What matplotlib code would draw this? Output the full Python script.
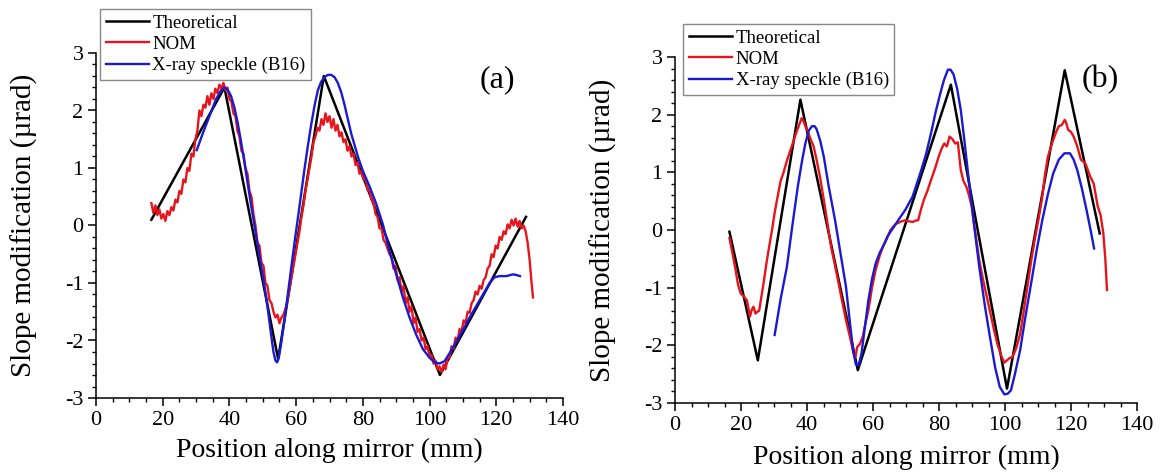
import matplotlib
matplotlib.use("Agg")
import matplotlib.pyplot as plt
from matplotlib.ticker import MultipleLocator

plt.rcParams['font.family'] = ['Liberation Serif', 'DejaVu Serif']
plt.rcParams['axes.unicode_minus'] = False

# ---------------- Panel (a) data ----------------
a_theo_x = [16.6, 38.5, 54.6, 68.3, 103.1, 128.9]
a_theo_y = [0.10, 2.40, -2.32, 2.60, -2.60, 0.15]

a_nom_x = [16.6, 17.2, 17.8, 18.4, 19.0, 19.6, 20.2, 20.8, 21.4, 22.0, 22.6, 23.2, 23.8, 24.4,
           25.0, 25.6, 26.2, 26.8, 27.4, 28.0, 28.6, 29.2, 29.8, 30.4, 31.0, 31.6, 32.2, 32.8,
           33.4, 34.0, 34.6, 35.2, 35.8, 36.4, 37.0, 37.6, 38.2, 38.8, 39.4, 40.0, 40.6, 41.2,
           41.8, 42.4, 43.0, 43.6, 44.2, 44.8, 45.4, 46.0, 46.6, 47.2, 47.8, 48.4, 49.0, 49.6,
           50.2, 50.8, 51.4, 52.0, 52.6, 53.2, 53.8, 54.4, 55.0, 55.6, 56.2, 56.8, 57.4, 58.0,
           58.6, 59.2, 59.8, 60.4, 61.0, 61.6, 62.2, 62.8, 63.4, 64.0, 64.6, 65.2, 65.8, 66.4,
           67.0, 67.6, 68.2, 68.8, 69.4, 70.0, 70.6, 71.2, 71.8, 72.4, 73.0, 73.6, 74.2, 74.8,
           75.4, 76.0, 76.6, 77.2, 77.8, 78.4, 79.0, 79.6, 80.2, 80.8, 81.4, 82.0, 82.6, 83.2,
           83.8, 84.4, 85.0, 85.6, 86.2, 86.8, 87.4, 88.0, 88.6, 89.2, 89.8, 90.4, 91.0, 91.6,
           92.2, 92.8, 93.4, 94.0, 94.6, 95.2, 95.8, 96.4, 97.0, 97.6, 98.2, 98.8, 99.4, 100.0,
           100.6, 101.2, 101.8, 102.4, 103.0, 103.6, 104.2, 104.8, 105.4, 106.0, 106.6, 107.2,
           107.8, 108.4, 109.0, 109.6, 110.2, 110.8, 111.4, 112.0, 112.6, 113.2, 113.8, 114.4,
           115.0, 115.6, 116.2, 116.8, 117.4, 118.0, 118.6, 119.2, 119.8, 120.4, 121.0, 121.6,
           122.2, 122.8, 123.4, 124.0, 124.6, 125.2, 125.8, 126.4, 127.0, 127.6, 128.2, 128.8,
           129.4, 130.0, 130.5, 131.0]
a_nom_y = [0.39, 0.22, 0.35, 0.18, 0.28, 0.12, 0.20, 0.08, 0.25, 0.18, 0.32, 0.26, 0.45, 0.40,
           0.60, 0.55, 0.80, 0.75, 1.00, 0.95, 1.25, 1.20, 1.50, 1.65, 2.00, 1.90, 2.10, 2.05,
           2.25, 2.10, 2.30, 2.20, 2.38, 2.30, 2.45, 2.38, 2.48, 2.35, 2.40, 2.20, 2.15, 1.95,
           1.90, 1.65, 1.55, 1.30, 1.25, 1.00, 0.90, 0.60, 0.50, 0.20, 0.00, -0.30, -0.35, -0.65,
           -0.70, -1.00, -1.05, -1.30, -1.35, -1.50, -1.60, -1.55, -1.70, -1.60, -1.55, -1.45, -1.30, -1.10,
           -0.90, -0.70, -0.50, -0.30, -0.10, 0.15, 0.35, 0.60, 0.80, 1.00, 1.20, 1.45, 1.55, 1.70,
           1.65, 1.85, 1.75, 1.95, 1.80, 1.90, 1.70, 1.85, 1.65, 1.75, 1.55, 1.62, 1.45, 1.50,
           1.30, 1.38, 1.20, 1.25, 1.05, 1.10, 0.90, 0.95, 0.80, 0.82, 0.62, 0.60, 0.45, 0.40,
           0.20, 0.15, -0.05, -0.05, -0.25, -0.30, -0.40, -0.50, -0.55, -0.75, -0.70, -0.95, -0.90, -1.15,
           -1.05, -1.35, -1.25, -1.50, -1.40, -1.70, -1.60, -1.85, -1.80, -2.00, -1.95, -2.15, -2.10, -2.30,
           -2.25, -2.40, -2.35, -2.50, -2.45, -2.55, -2.42, -2.50, -2.30, -2.30, -2.10, -2.15,
           -1.95, -2.00, -1.80, -1.85, -1.65, -1.70, -1.50, -1.52, -1.35, -1.30, -1.15, -1.20,
           -1.05, -1.10, -0.95, -0.90, -0.75, -0.70, -0.50, -0.55, -0.35, -0.40, -0.20, -0.25,
           -0.10, -0.15, 0.02, -0.05, 0.10, 0.00, 0.12, -0.02, 0.08, -0.05, 0.00, -0.10,
           -0.30, -0.60, -0.95, -1.25]

a_xray_x = [30.2, 32.0, 34.0, 36.0, 37.5, 38.5, 39.5, 40.5, 41.5, 42.5, 43.5, 44.5, 45.5, 46.5,
            47.5, 48.5, 49.5, 50.5, 51.5, 52.5, 53.2, 53.8, 54.3, 54.8, 55.5, 56.5, 57.5, 58.5,
            59.5, 60.5, 61.5, 62.5, 63.5, 64.5, 65.5, 66.5, 67.5, 68.5, 69.5, 70.5, 71.5, 72.5,
            73.5, 74.5, 75.5, 76.5, 77.5, 78.5, 80.0, 82.0, 84.0, 86.0, 88.0, 90.0, 92.0, 94.0,
            96.0, 98.0, 100.0, 101.5, 103.0, 104.5, 106.0, 108.0, 110.0, 112.0, 114.0, 116.0,
            118.0, 119.5, 121.0, 123.0, 125.0, 126.0, 127.1]
a_xray_y = [1.31, 1.60, 1.90, 2.20, 2.35, 2.40, 2.36, 2.25, 2.05, 1.78, 1.45, 1.10, 0.72, 0.35,
            0.00, -0.35, -0.70, -1.05, -1.45, -1.90, -2.20, -2.35, -2.38, -2.30, -2.05, -1.65, -1.20, -0.75,
            -0.30, 0.12, 0.55, 0.98, 1.38, 1.75, 2.08, 2.35, 2.50, 2.58, 2.62, 2.62, 2.58, 2.48,
            2.32, 2.10, 1.85, 1.60, 1.40, 1.20, 0.95, 0.68, 0.38, 0.02, -0.45, -0.85, -1.25, -1.60,
            -1.90, -2.15, -2.30, -2.38, -2.40, -2.36, -2.22, -2.02, -1.82, -1.60, -1.40, -1.20,
            -1.00, -0.90, -0.88, -0.88, -0.85, -0.86, -0.88]

# ---------------- Panel (b) data ----------------
b_theo_x = [16.5, 25.1, 38.0, 55.4, 83.6, 100.6, 118.1, 128.7]
b_theo_y = [-0.03, -2.26, 2.26, -2.43, 2.52, -2.75, 2.77, -0.06]

b_nom_x = [16.5, 17.4, 18.2, 19.1, 19.9, 21.0, 21.8, 22.7, 23.3, 23.8, 24.4, 24.9, 25.5, 26.0,
           26.9, 27.7, 28.5, 29.4, 30.2, 31.1, 32.0, 32.8, 33.9, 35.0, 35.8, 36.7, 37.6, 38.4,
           39.0, 39.5, 40.3, 41.2, 42.0, 42.9, 44.0, 45.1, 46.2, 47.3, 48.5, 49.6, 50.7, 51.8,
           53.0, 54.1, 54.7, 55.2, 56.0, 56.9, 57.7, 58.6, 59.7, 60.8, 62.0, 63.0, 64.2, 65.3,
           66.0, 66.8, 67.5, 68.6, 69.8, 70.9, 72.0, 72.8, 73.7, 74.5, 75.4, 76.5, 77.6, 78.7,
           79.9, 80.7, 81.6, 82.4, 83.2, 84.0, 84.9, 85.7, 86.6, 87.4, 88.3, 89.1, 89.9, 91.0,
           92.2, 93.3, 94.5, 95.6, 96.7, 97.8, 99.0, 99.8, 100.6, 101.4, 102.3, 103.4, 104.6,
           105.7, 106.8, 107.9, 109.0, 110.2, 111.3, 112.1, 113.0, 113.8, 114.6, 115.5, 116.3,
           117.2, 118.1, 118.6, 119.1, 120.0, 120.8, 121.9, 123.0, 124.4, 125.8, 126.9, 128.1,
           129.0, 129.8, 130.4, 130.9]
b_nom_y = [-0.14, -0.40, -0.64, -0.95, -1.10, -1.16, -1.22, -1.50, -1.38, -1.33, -1.45, -1.42, -1.40, -1.22,
           -0.90, -0.58, -0.30, 0.00, 0.30, 0.58, 0.85, 0.98, 1.20, 1.39, 1.52, 1.68, 1.82, 1.94,
           1.88, 1.80, 1.70, 1.56, 1.45, 1.22, 0.90, 0.52, 0.12, -0.29, -0.62, -0.93, -1.25, -1.56,
           -1.85, -2.14, -2.20, -2.03, -1.98, -1.85, -1.62, -1.39, -1.00, -0.69, -0.45, -0.29, -0.15, 0.00,
           0.05, 0.10, 0.12, 0.15, 0.17, 0.15, 0.14, 0.16, 0.17, 0.35, 0.52, 0.68, 0.87, 1.05,
           1.27, 1.40, 1.50, 1.45, 1.62, 1.58, 1.50, 1.52, 1.04, 0.85, 0.75, 0.60, 0.41, -0.05,
           -0.52, -0.85, -1.16, -1.45, -1.74, -2.00, -2.20, -2.30, -2.26, -2.22, -2.20, -2.05, -1.80,
           -1.40, -0.98, -0.55, -0.17, 0.20, 0.58, 0.95, 1.27, 1.42, 1.56, 1.70, 1.80,
           1.82, 1.91, 1.85, 1.74, 1.70, 1.62, 1.45, 1.22, 1.15, 0.93, 0.80, 0.41,
           0.25, -0.06, -0.50, -1.04]

b_xray_x = [30.2, 32.0, 33.9, 35.5, 37.2, 38.5, 39.5, 40.5, 41.5, 42.3, 42.9, 44.0, 45.1, 46.5,
            48.5, 50.0, 51.8, 53.0, 54.0, 54.8, 55.6, 56.5, 57.5, 58.6, 59.7, 60.8, 62.0, 63.0,
            64.5, 66.4, 68.0, 69.8, 72.0, 74.3, 76.0, 77.6, 79.0, 80.4, 81.5, 82.7, 83.5, 84.4,
            85.5, 86.6, 87.7, 88.8, 90.5, 92.2, 94.0, 95.6, 97.0, 98.4, 99.8, 100.8, 101.8,
            103.0, 104.6, 106.2, 107.9, 109.6, 111.3, 113.0, 114.6, 116.3, 118.0, 119.7, 120.8,
            121.9, 123.3, 124.7, 126.0, 127.0]
b_xray_y = [-1.82, -1.20, -0.64, 0.05, 0.75, 1.20, 1.50, 1.72, 1.80, 1.80, 1.75, 1.55, 1.27, 0.78,
            0.17, -0.35, -0.98, -1.60, -2.10, -2.33, -2.35, -2.15, -1.70, -1.22, -0.85, -0.58, -0.40, -0.29,
            -0.10, 0.06, 0.20, 0.35, 0.58, 0.98, 1.30, 1.68, 2.05, 2.37, 2.60, 2.78, 2.78, 2.70,
            2.45, 2.08, 1.55, 0.98, 0.15, -0.64, -1.35, -1.91, -2.38, -2.72, -2.85, -2.84, -2.78,
            -2.50, -2.08, -1.50, -0.93, -0.35, 0.17, 0.62, 0.98, 1.22, 1.33, 1.33, 1.22,
            1.04, 0.72, 0.35, -0.02, -0.32]

labels = ["Theoretical", "NOM", "X-ray speckle (B16)"]
panel_tags = ["(a)", "(b)"]

W, H = 1167, 473
fig = plt.figure(figsize=(W / 100, H / 100), dpi=100)

ax_a = fig.add_axes([96 / W, 1 - 398 / H, 467 / W, 345 / H])
ax_b = fig.add_axes([675 / W, 1 - 403 / H, 462 / W, 346 / H])

panels = [
    (ax_a, (a_theo_x, a_theo_y), (a_nom_x, a_nom_y), (a_xray_x, a_xray_y),
     (100 / W, 1 - 9 / H), (497 / W, 1 - 80 / H), -0.125, -0.115),
    (ax_b, (b_theo_x, b_theo_y), (b_nom_x, b_nom_y), (b_xray_x, b_xray_y),
     (683 / W, 1 - 24 / H), (1100 / W, 1 - 80 / H), -0.126, -0.12),
]

for i, (ax, th, nm, xr, leg_pos, tag_pos, ylab_x, xlab_y) in enumerate(panels):
    l1, = ax.plot(th[0], th[1], color='black', lw=1.8)
    l2, = ax.plot(nm[0], nm[1], color='#e8141c', lw=1.7)
    l3, = ax.plot(xr[0], xr[1], color='#1a1ad2', lw=1.7)

    ax.set_xlim(0, 140)
    ax.set_ylim(-3, 3)
    ax.xaxis.set_major_locator(MultipleLocator(20))
    ax.xaxis.set_minor_locator(MultipleLocator(5))
    ax.yaxis.set_major_locator(MultipleLocator(1))
    ax.yaxis.set_minor_locator(MultipleLocator(0.2))
    for s in ['top', 'right']:
        ax.spines[s].set_visible(False)
    for s in ['left', 'bottom']:
        ax.spines[s].set_linewidth(1.1)
    ax.tick_params(which='major', direction='out', length=6, width=1.1, labelsize=16, pad=3)
    ax.tick_params(which='minor', direction='out', length=3, width=1.0)

    ax.set_xlabel("Position along mirror (mm)", fontsize=20)
    ax.set_ylabel("Slope modification (\u00b5rad)", fontsize=21)
    ax.xaxis.set_label_coords(0.5, xlab_y)
    ax.yaxis.set_label_coords(ylab_x, 0.5)

    fig.legend([l1, l2, l3], labels, loc='upper left', bbox_to_anchor=leg_pos,
               bbox_transform=fig.transFigure, fontsize=13.5, frameon=True, fancybox=False,
               edgecolor='#888888', framealpha=1, borderaxespad=0, borderpad=0.3,
               labelspacing=0.22, handlelength=2.3, handletextpad=0.2)

    fig.text(tag_pos[0], tag_pos[1], panel_tags[i], fontsize=23, ha='center', va='center')

fig.savefig("out.png", dpi=100)
